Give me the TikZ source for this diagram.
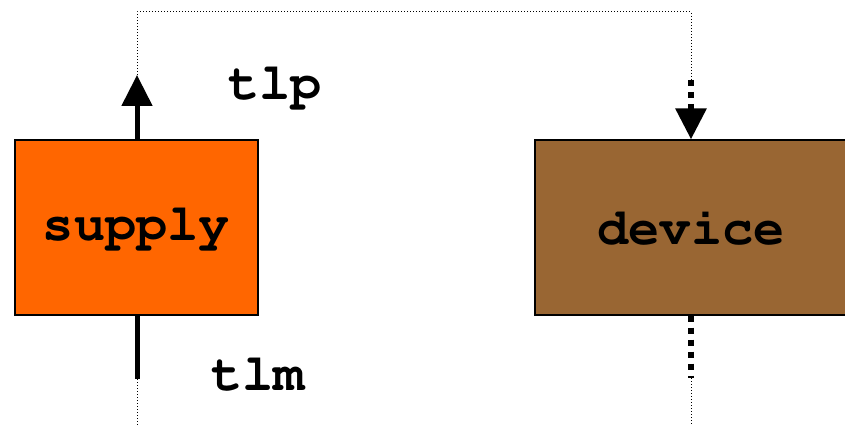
\documentclass[tikz,border=0pt]{standalone}
\usepackage[T1]{fontenc}
\usetikzlibrary{arrows.meta}
\newcommand{\courb}{\usefont{T1}{pcr}{b}{n}\fontsize{52}{52}\selectfont}
\begin{document}
\begin{tikzpicture}[x=1pt,y=-1pt,
  blockbox/.style={draw=black,line width=1.2pt,minimum height=175pt,inner sep=0pt,
    font=\courb},
  lbl/.style={font=\courb,inner sep=0pt},
  thickline/.style={line width=5pt},
  thickdot/.style={line width=6pt,dash pattern=on 6pt off 6pt},
  thindot/.style={line width=1pt,dash pattern=on 1pt off 2pt},
  tip/.style={-{Triangle[width=30pt,length=31pt]}}]
\useasboundingbox (0,0) rectangle (845,425);
\clip (0,0) rectangle (845,425);
\node[blockbox,fill={rgb,255:red,255;green,102;blue,0},minimum width=243pt] (supply) at (136.5,227.5) {supply};
\node[blockbox,fill={rgb,255:red,153;green,102;blue,51},minimum width=312pt] (device) at (691,227.5) {device};
\coordinate (tlptop) at (137,75);
\coordinate (dtop) at (691,80);
\coordinate (sbot) at (137,379);
\coordinate (dbot) at (691,378);
\coordinate (send) at (137,425);
\coordinate (dend) at (691,425);
\node[lbl] (tlp) at (275,87) {tlp};
\node[lbl] (tlm) at (258,375) {tlm};
\draw[thickline,tip] (supply.north -| tlptop) -- (tlptop);
\draw[thindot] (tlptop) |- (691,12) -- (dtop);
\draw[thickdot,tip] (dtop) -- (device.north);
\draw[thickline] (supply.south -| sbot) -- (sbot);
\draw[thindot] (sbot) -- (send);
\draw[thickdot] (device.south) -- (dbot);
\draw[thindot] (dbot) -- (dend);
\end{tikzpicture}
\end{document}
